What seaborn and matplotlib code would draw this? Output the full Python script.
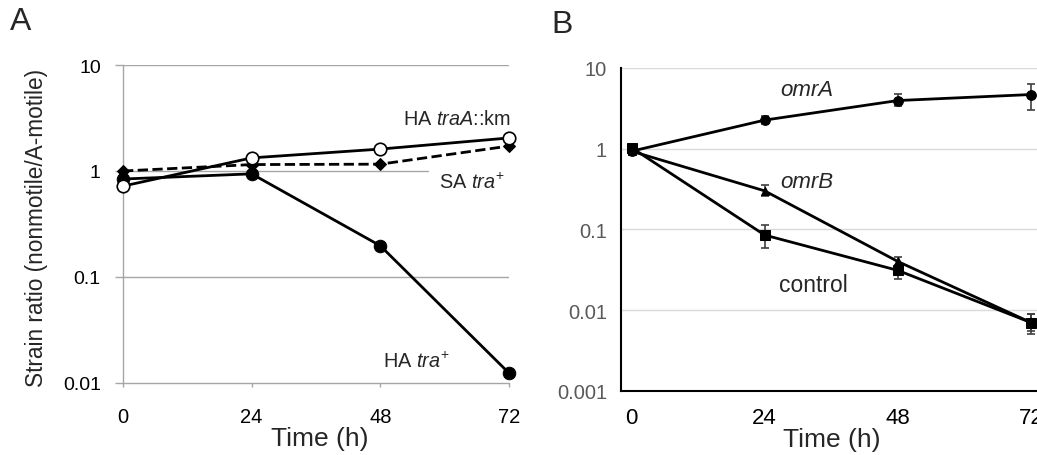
import numpy as np
import pandas as pd
import matplotlib
matplotlib.use("Agg")
import matplotlib.pyplot as plt
import seaborn as sns

sns.set_theme(style="white")
plt.rcParams['font.family'] = ['Liberation Sans', 'DejaVu Sans']
plt.rcParams['mathtext.fontset'] = 'custom'
plt.rcParams['mathtext.rm'] = 'Liberation Sans'
plt.rcParams['mathtext.it'] = 'Liberation Sans:italic'

# ---------------- data ----------------
time = [0, 24, 48, 72]
time_ticks = [0, 24, 48, 72]

# Panel A
ha_traA_km = [0.72, 1.33, 1.61, 2.05]
sa_tra = [1.0, 1.15, 1.16, 1.72]
ha_tra = [0.84, 0.94, 0.197, 0.0124]
a_yticks = [0.01, 0.1, 1, 10]
a_yticklabels = ["0.01", "0.1", "1", "10"]

# Panel B
omrA = [0.93, 2.26, 3.95, 4.69]
omrA_lo = [0.93, 2.0, 3.36, 3.0]
omrA_hi = [0.93, 2.55, 4.77, 6.4]
omrB = [0.93, 0.30, 0.040, 0.0070]
omrB_lo = [0.93, 0.26, 0.035, 0.0055]
omrB_hi = [0.93, 0.35, 0.046, 0.009]
control = [1.03, 0.085, 0.031, 0.0070]
control_lo = [1.03, 0.058, 0.0245, 0.0050]
control_hi = [1.03, 0.112, 0.036, 0.0089]
b_yticks = [0.001, 0.01, 0.1, 1, 10]
b_yticklabels = ["0.001", "0.01", "0.1", "1", "10"]

W, H = 1037, 456
fig = plt.figure(figsize=(W / 100, H / 100), dpi=100)

# ---------------- Panel A ----------------
axA = fig.add_axes([123 / W, 1 - 384 / H, (509 - 123) / W, (384 - 66) / H])
axA.set_yscale('log')
axA.set_xlim(0, 72)
axA.set_ylim(0.01, 10)
grid_grey = '#a6a6a6'
for yv in [10, 0.1]:
    axA.axhline(yv, color=grid_grey, lw=1, zorder=0)
axA.axhline(1, xmax=(428 - 123) / (509 - 123), color=grid_grey, lw=1, zorder=0)

sns.lineplot(x=time, y=ha_tra, ax=axA, color='black', lw=2, marker='o',
             markersize=9, markerfacecolor='black', markeredgecolor='black',
             clip_on=False, zorder=3)
sns.lineplot(x=time, y=sa_tra, ax=axA, color='black', lw=2, linestyle='--',
             marker='D', markersize=6, markerfacecolor='black',
             markeredgecolor='black', clip_on=False, zorder=4)
sns.lineplot(x=time, y=ha_traA_km, ax=axA, color='black', lw=2, marker='o',
             markersize=9, markerfacecolor='white', markeredgecolor='black',
             markeredgewidth=1.2, clip_on=False, zorder=5)

for s in ['top', 'right']:
    axA.spines[s].set_visible(False)
for s in ['left', 'bottom']:
    axA.spines[s].set_color(grid_grey)
    axA.spines[s].set_linewidth(1)
axA.set_yticks(a_yticks)
axA.set_yticklabels(a_yticklabels)
axA.yaxis.set_minor_locator(matplotlib.ticker.NullLocator())
axA.set_xticks(time_ticks)
axA.set_xticklabels([str(t) for t in time_ticks])
axA.tick_params(axis='y', which='major', left=True, length=6, width=1,
                color=grid_grey, labelsize=14, labelcolor='black', pad=10)
axA.tick_params(axis='x', which='major', bottom=True, length=3, width=1,
                color=grid_grey, labelsize=14.5, labelcolor='black', pad=14)
axA.set_xlabel("Time (h)", fontsize=19)
axA.xaxis.set_label_coords(0.51, -0.135)
axA.set_ylabel("Strain ratio (nonmotile/A-motile)", fontsize=16.3)
axA.yaxis.set_label_coords(-0.195, 0.49)

axA.text(62.2, 3.1, r"HA $\mathit{traA}$::km", fontsize=14.3, ha='center', va='center')
axA.text(65.0, 0.79, r"SA $\mathit{tra}^{+}$", fontsize=14.3, ha='center', va='center')
axA.text(54.8, 0.0163, r"HA $\mathit{tra}^{+}$", fontsize=14.3, ha='center', va='center')

# ---------------- Panel B ----------------
axB = fig.add_axes([621 / W, 1 - 391.7 / H, (W - 621) / W, (391.7 - 69) / H])
axB.set_yscale('log')
axB.set_xlim(-1.9, 73.1)
axB.set_ylim(0.001, 10)
axB.yaxis.grid(True, color='#d9d9d9', lw=1)
axB.set_axisbelow(True)

def draw_series(vals, lo, hi, marker, ms):
    vals = np.array(vals)
    sns.lineplot(x=time, y=vals, ax=axB, color='black', lw=2, marker=marker,
                 markersize=ms, markerfacecolor='black', markeredgecolor='black',
                 clip_on=False, zorder=3)
    axB.errorbar(time, vals, yerr=[vals - np.array(lo), np.array(hi) - vals],
                 fmt='none', ecolor='#404040', elinewidth=1.2, capsize=3,
                 capthick=1.2, clip_on=False, zorder=2)

draw_series(omrA, omrA_lo, omrA_hi, 'o', 7)
draw_series(omrB, omrB_lo, omrB_hi, '^', 6)
draw_series(control, control_lo, control_hi, 's', 6.5)

for s in ['top', 'right']:
    axB.spines[s].set_visible(False)
for s in ['left', 'bottom']:
    axB.spines[s].set_color('black')
    axB.spines[s].set_linewidth(1.5)
axB.set_yticks(b_yticks)
axB.set_yticklabels(b_yticklabels)
axB.yaxis.set_minor_locator(matplotlib.ticker.NullLocator())
axB.set_xticks(time_ticks)
axB.set_xticklabels([str(t) for t in time_ticks])
axB.tick_params(axis='y', left=False, length=0, labelsize=14.5,
                labelcolor='#595959', pad=10)
axB.tick_params(axis='x', bottom=False, length=0, labelsize=16,
                labelcolor='black', pad=12)
axB.set_xlabel("Time (h)", fontsize=19)
axB.xaxis.set_label_coords(0.506, -0.112)
axB.set_ylabel("")

axB.text(31.6, 5.35, "omrA", fontsize=16, style='italic', ha='center', va='center')
axB.text(31.6, 0.39, "omrB", fontsize=16, style='italic', ha='center', va='center')
axB.text(32.7, 0.0205, "control", fontsize=16.5, ha='center', va='center')

# panel letters
fig.text(21 / W, 1 - 22 / H, "A", fontsize=23, ha='center', va='center')
fig.text(562 / W, 1 - 25 / H, "B", fontsize=23, ha='center', va='center')

fig.savefig("out.png", dpi=100)
